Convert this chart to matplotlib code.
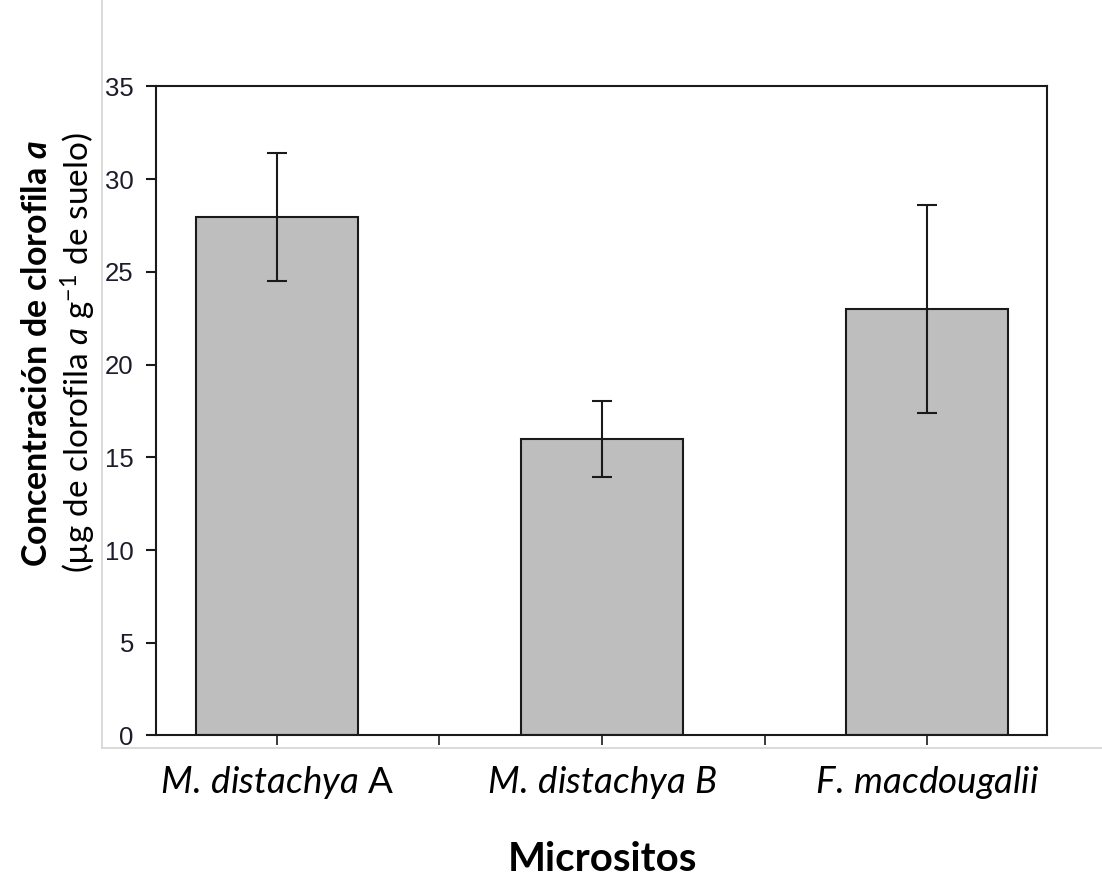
import matplotlib
matplotlib.use("Agg")
import matplotlib.pyplot as plt
from matplotlib.lines import Line2D

# chlorophyll a per microsite, mean and error
micrositos = ["M. distachya A", "M. distachya B", "F. macdougalii"]
xlabels = [r"$\mathit{M.\,distachya}\ \mathrm{A}$",
           r"$\mathit{M.\,distachya\ B}$",
           r"$\mathit{F.\,macdougalii}$"]
clorofila = [27.95, 16.0, 23.0]
error = [3.45, 2.05, 5.6]
yticks = [0, 5, 10, 15, 20, 25, 30, 35]

plt.rcParams["mathtext.fontset"] = "custom"
plt.rcParams["mathtext.rm"] = "Lato"
plt.rcParams["mathtext.it"] = "Lato:italic"
plt.rcParams["mathtext.bf"] = "Lato:bold"
plt.rcParams["mathtext.bfit"] = "Lato:bold:italic"

fig = plt.figure(figsize=(11.02, 8.76), dpi=100)
ax = fig.add_axes([0.1416, 0.1604, 0.8085, 0.7409])

x = list(range(len(clorofila)))
ax.bar(x, clorofila, width=0.5, color="#bebebe", edgecolor="#1a1a1a",
       linewidth=1.5, zorder=2)
ax.errorbar(x, clorofila, yerr=error, fmt="none", ecolor="#1a1a1a",
            elinewidth=1.5, capsize=7, capthick=1.5, zorder=3)

ax.set_xlim(-0.372, 2.369)
ax.set_ylim(0, 35)
ax.set_yticks(yticks)
ax.set_yticklabels([str(v) for v in yticks], fontfamily="Liberation Sans",
                   fontsize=18.5, color="#1c1c2a")
ax.set_xticks(x)
ax.set_xticklabels(xlabels, fontsize=26.5)
ax.set_xticks([0.5, 1.5], minor=True)

for s in ax.spines.values():
    s.set_linewidth(1.5)
    s.set_color("#1a1a1a")
ax.tick_params(axis="y", direction="out", length=7, width=1.5, pad=9,
               color="#1a1a1a")
ax.tick_params(axis="x", which="both", direction="out", length=7.5,
               width=1.2, pad=13, color="#1a1a1a")

fig.text(0.5465, 0.006, "Micrositos", ha="center", va="baseline",
         fontfamily="Lato", fontweight="bold", fontsize=29)

fig.text(0.034, 0.597, r"$\mathbf{Concentración\ de\ clorofila}\ \mathbfit{a}$",
         rotation=90, ha="center", va="center", fontsize=24.5)
fig.text(0.071, 0.597,
         r"$\mathrm{(µg\ de\ clorofila}\ \mathit{a}\ \mathrm{g^{-1}\ de\ suelo)}$",
         rotation=90, ha="center", va="center", fontsize=24)

# light frame around the plotting region
fig.add_artist(Line2D([0.0925, 0.0925], [0.146, 1.0], color="#d4d4d4",
                      linewidth=1.2, transform=fig.transFigure))
fig.add_artist(Line2D([0.0925, 1.0], [0.146, 0.146], color="#d4d4d4",
                      linewidth=1.2, transform=fig.transFigure))

fig.savefig("out.png", dpi=100, facecolor="white")
